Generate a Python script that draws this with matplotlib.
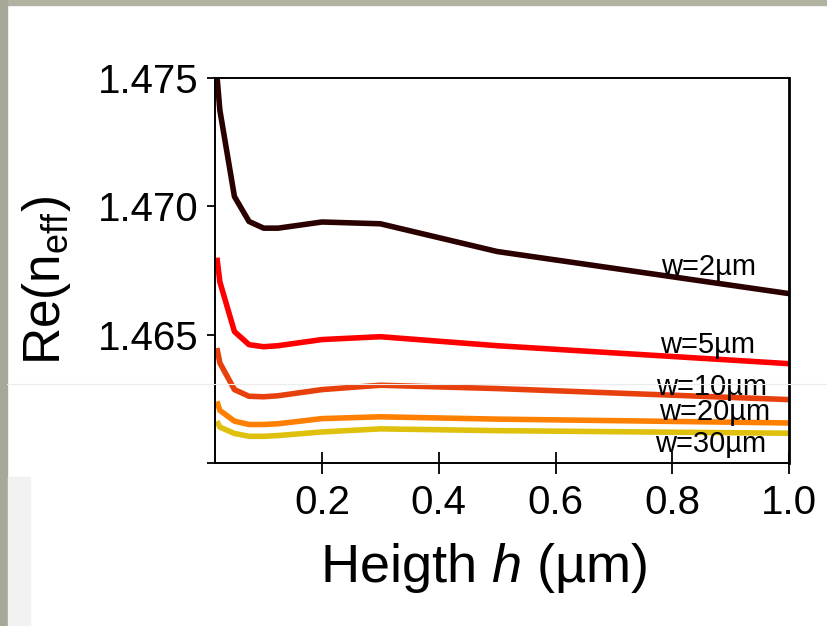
import numpy as np
import matplotlib
matplotlib.use("Agg")
import matplotlib.pyplot as plt
from matplotlib.patches import Rectangle

plt.rcParams['font.family'] = ['Liberation Sans', 'DejaVu Sans']
plt.rcParams['mathtext.fontset'] = 'custom'
plt.rcParams['mathtext.rm'] = 'Liberation Sans'
plt.rcParams['mathtext.it'] = 'Liberation Sans:italic'
plt.rcParams['mathtext.bf'] = 'Liberation Sans:bold'

# heights (um) and effective index for each waveguide width
h = [0.02, 0.025, 0.05, 0.075, 0.1, 0.125, 0.2, 0.3, 0.5, 1.0]
n_w2 = [1.47510, 1.47375, 1.47038, 1.46941, 1.46915, 1.46915, 1.46939, 1.46932, 1.46824, 1.46660]
n_w5 = [1.46800, 1.46706, 1.46512, 1.46461, 1.46453, 1.46457, 1.46481, 1.46492, 1.46457, 1.46387]
n_w10 = [1.46448, 1.46390, 1.46286, 1.46260, 1.46258, 1.46262, 1.46286, 1.46303, 1.46290, 1.46247]
n_w20 = [1.46240, 1.46205, 1.46163, 1.46150, 1.46150, 1.46153, 1.46173, 1.46180, 1.46171, 1.46156]
n_w30 = [1.46163, 1.46140, 1.46115, 1.46104, 1.46104, 1.46107, 1.46121, 1.46133, 1.46126, 1.46116]

widths = ['w=2µm', 'w=5µm', 'w=10µm', 'w=20µm', 'w=30µm']
series = [n_w2, n_w5, n_w10, n_w20, n_w30]
colors = ['#2a0000', '#ff0000', '#e8400c', '#ff8000', '#dfc00c']
# where each width label sits (data coords)
label_x = [0.863, 0.860, 0.868, 0.872, 0.865]
label_y = [1.46765, 1.46460, 1.46298, 1.46200, 1.46075]

fig = plt.figure(figsize=(8.27, 6.26), dpi=100)

# slide frame around the plot
fig.patches.append(Rectangle((0, 1 - 5 / 626), 1, 5 / 626, transform=fig.transFigure,
                             color='#b2b2a2', zorder=-5))
fig.patches.append(Rectangle((0, 0), 7 / 827, 1, transform=fig.transFigure,
                             color='#a8a898', zorder=-5))
fig.patches.append(Rectangle((8 / 827, 0), 22 / 827, 149 / 626, transform=fig.transFigure,
                             color='#f2f2f2', zorder=-5))
fig.add_artist(plt.Line2D([7 / 827, 1], [1 - 384 / 626] * 2, transform=fig.transFigure,
                          color='#ececec', lw=0.8, zorder=10))

ax = fig.add_axes([215 / 827, 1 - 463 / 626, 574 / 827, 385 / 626])

for n, c in zip(series, colors):
    ax.plot(h, n, color=c, lw=4.0, solid_joinstyle='round', solid_capstyle='butt')

for txt, x, y in zip(widths, label_x, label_y):
    ax.text(x, y, txt, fontsize=21, ha='center', va='center', color='black')

ax.set_xlim(0.0167, 1.0)
ax.set_ylim(1.460, 1.475)
ax.set_xticks([0.2, 0.4, 0.6, 0.8, 1.0])
ax.set_xticklabels(['0.2', '0.4', '0.6', '0.8', '1.0'])
ax.set_yticks([1.460, 1.465, 1.470, 1.475])
ax.set_yticklabels(['', '1.465', '1.470', '1.475'])

ax.tick_params(axis='x', direction='inout', length=16, width=1.3, labelsize=29, pad=7)
ax.tick_params(axis='y', direction='out', length=6, width=1.3, labelsize=29, pad=6)
for s in ax.spines.values():
    s.set_linewidth(1.4)
ax.spines['right'].set_linewidth(2)

ax.set_xlabel('Heigth $\\mathit{h}$ (µm)', fontsize=39, labelpad=14)
ax.xaxis.label.set_x(0.469)
ax.set_ylabel('Re(n$_\\mathregular{eff}$)', fontsize=37, labelpad=18)
ax.yaxis.label.set_y(0.475)

fig.savefig('out.png', dpi=100)
